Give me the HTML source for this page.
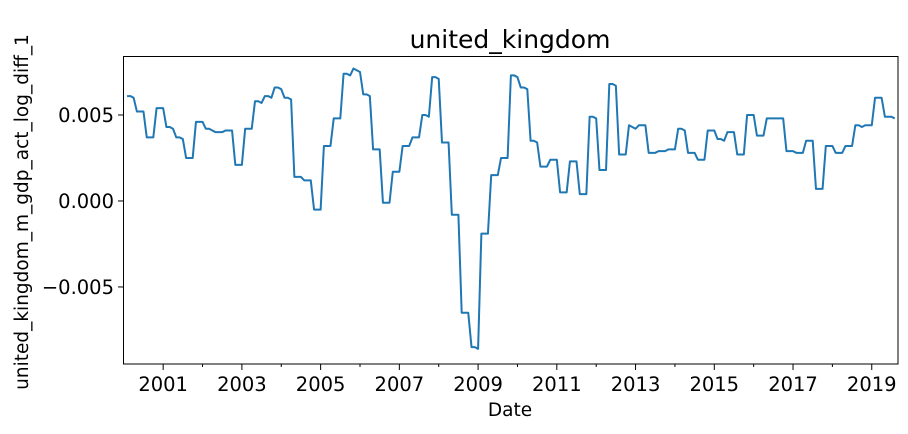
<!DOCTYPE html>
<html><head><meta charset="utf-8"><style>
body{margin:0;background:#fff;}
svg text{font-family:"DejaVu Sans","Liberation Sans",sans-serif;fill:#000;}
</style></head><body>
<svg id="chart" width="908" height="429" xmlns="http://www.w3.org/2000/svg">
<text x="510" y="48" font-size="25" text-anchor="middle">united_kingdom</text>
<text x="510" y="416" font-size="18.5" text-anchor="middle">Date</text>
<text transform="translate(28,212) rotate(-90)" font-size="18.5" text-anchor="middle">united_kingdom_m_gdp_act_log_diff_1</text>
<g id="yaxis"></g>
<g id="xaxis"></g>
<path id="series" fill="none" stroke="#1f77b4" stroke-width="2" stroke-linejoin="round"/>
<rect x="123.5" y="56.5" width="774.5" height="307.5" fill="none" stroke="#000" stroke-width="1"/>
</svg>
<script>
const startMonth = 1; // months after 2000-01
const values = [
.0061,.0061,.0060, .0052,.0052,.0052, .0037,.0037,.0037, .0054,.0054,.0054,
.0043,.0043,.0042, .0037,.0037,.0036, .0025,.0025,.0025, .0046,.0046,.0046,
.0042,.0042,.0041, .0040,.0040,.0040, .0041,.0041,.0041, .0021,.0021,.0021,
.0042,.0042,.0042, .0058,.0058,.0057, .0061,.0061,.0060, .0066,.0066,.0065,
.0060,.0060,.0059, .0014,.0014,.0014, .0012,.0012,.0012, -.0005,-.0005,-.0005,
.0032,.0032,.0032, .0048,.0048,.0048, .0074,.0074,.0073, .0077,.0076,.0075,
.0062,.0062,.0061, .0030,.0030,.0030, -.0001,-.0001,-.0001, .0017,.0017,.0017,
.0032,.0032,.0032, .0037,.0037,.0037, .0050,.0050,.0049, .0072,.0072,.0071,
.0034,.0034,.0034, -.0008,-.0008,-.0008, -.0065,-.0065,-.0065, -.0085,-.0085,-.0086,
-.0019,-.0019,-.0019, .0015,.0015,.0015, .0025,.0025,.0025, .0073,.0073,.0072,
.0066,.0066,.0065, .0035,.0035,.0034, .0020,.0020,.0020, .0024,.0024,.0024,
.0005,.0005,.0005, .0023,.0023,.0023, .0004,.0004,.0004, .0049,.0049,.0048,
.0018,.0018,.0018, .0068,.0068,.0067, .0027,.0027,.0027, .0044,.0043,.0042,
.0044,.0044,.0044, .0028,.0028,.0028, .0029,.0029,.0029, .0030,.0030,.0030,
.0042,.0042,.0041, .0028,.0028,.0028, .0024,.0024,.0024, .0041,.0041,.0041,
.0036,.0036,.0035, .0040,.0040,.0040, .0027,.0027,.0027, .0050,.0050,.0050,
.0038,.0038,.0038, .0048,.0048,.0048, .0048,.0048,.0048, .0029,.0029,.0029,
.0028,.0028,.0028, .0035,.0035,.0035, .0007,.0007,.0007, .0032,.0032,.0032,
.0028,.0028,.0028, .0032,.0032,.0032, .0044,.0044,.0043, .0044,.0044,.0044,
.0060,.0060,.0060, .0049,.0049,.0049,.0048
];
const yTicks = [0.005, 0.000, -0.005];
const yTickLabels = ["0.005", "0.000", "\u22120.005"];
const xTickYears = [2001,2003,2005,2007,2009,2011,2013,2015,2017,2019];
const xMinorYears = [2002,2004,2006,2008,2010,2012,2014,2016,2018];

const NS = "http://www.w3.org/2000/svg";
const L=123, R=898, T=56, B=364;
const mMin=-0.24, mMax=236.0;
const vTop=0.00843, vBot=-0.00948;
const x = m => L + (m-mMin)/(mMax-mMin)*(R-L);
const y = v => T + (vTop-v)/(vTop-vBot)*(B-T);

let d="";
values.forEach((v,i)=>{ d += (i?"L":"M") + x(startMonth+i).toFixed(2) + "," + y(v).toFixed(2); });
document.getElementById("series").setAttribute("d", d);

const ya=document.getElementById("yaxis");
yTicks.forEach((v,i)=>{
  const ln=document.createElementNS(NS,"line");
  
  
  ln.setAttribute("x1",L-5);ln.setAttribute("x2",L);ln.setAttribute("y1",y(v));ln.setAttribute("y2",y(v));ln.setAttribute("stroke","#000");
  ya.appendChild(ln);
  const t=document.createElementNS(NS,"text");
  
  
  t.setAttribute("x",L-9);t.setAttribute("y",y(v)+7);t.setAttribute("font-size","19.5");t.setAttribute("text-anchor","end");
  t.textContent=yTickLabels[i];
  ya.appendChild(t);
});
const xa=document.getElementById("xaxis");
xTickYears.forEach(yr=>{
  const m=(yr-2000)*12, px=x(m);
  const ln=document.createElementNS(NS,"line");
  
  
  ln.setAttribute("x1",px);ln.setAttribute("x2",px);ln.setAttribute("y1",B);ln.setAttribute("y2",B+6);ln.setAttribute("stroke","#000");
  xa.appendChild(ln);
  const t=document.createElementNS(NS,"text");
  
  
  t.setAttribute("x",px);t.setAttribute("y",B+27);t.setAttribute("font-size","19.5");t.setAttribute("text-anchor","middle");
  t.textContent=yr;
  xa.appendChild(t);
});
xMinorYears.forEach(yr=>{
  const px=x((yr-2000)*12);
  const ln=document.createElementNS(NS,"line");
  
  
  ln.setAttribute("x1",px);ln.setAttribute("x2",px);ln.setAttribute("y1",B);ln.setAttribute("y2",B+3);ln.setAttribute("stroke","#000");
  xa.appendChild(ln);
});
</script>
</body></html>
